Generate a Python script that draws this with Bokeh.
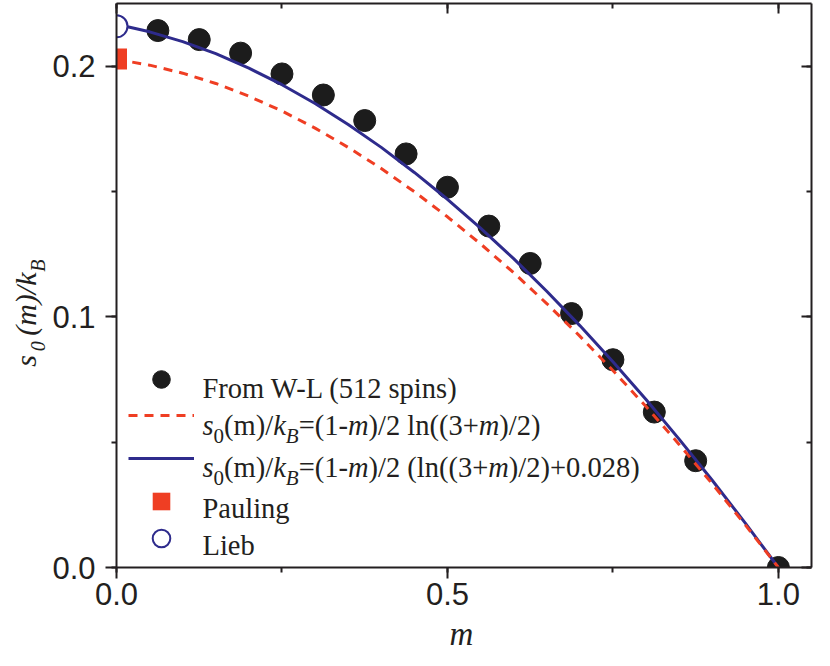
import math
from bokeh.plotting import figure
from bokeh.models import (Range1d, LinearAxis, SingleIntervalTicker, PrintfTickFormatter,
                          CustomJSTickFormatter, Label, Legend, LegendItem)
from bokeh.embed import file_html
from bokeh.resources import INLINE

# ---------------- data ----------------
m_wl = [0.0625, 0.125, 0.1875, 0.25, 0.3125, 0.375, 0.4375, 0.5,
        0.5625, 0.625, 0.6875, 0.75, 0.8125, 0.875, 1.0]
s_wl = [0.2142, 0.2106, 0.2052, 0.1969, 0.1885, 0.1783, 0.1650, 0.1517,
        0.1362, 0.1213, 0.1013, 0.0829, 0.0620, 0.0426, 0.0]

m_curve = [0.0, 0.05, 0.10, 0.15, 0.20, 0.25, 0.30, 0.35, 0.40, 0.45, 0.50,
           0.55, 0.60, 0.65, 0.70, 0.75, 0.80, 0.85, 0.90, 0.95, 1.0]
s_dashed = [0.2027, 0.2004, 0.1972, 0.1931, 0.1880, 0.1821, 0.1753, 0.1676,
            0.1592, 0.1499, 0.1399, 0.1291, 0.1176, 0.1053, 0.0923, 0.0786,
            0.0642, 0.0491, 0.0334, 0.0170, 0.0]
s_solid = [0.2167, 0.2137, 0.2098, 0.2050, 0.1992, 0.1926, 0.1851, 0.1767,
           0.1676, 0.1576, 0.1469, 0.1354, 0.1232, 0.1102, 0.0965, 0.0821,
           0.0670, 0.0512, 0.0348, 0.0177, 0.0]

m_pauling = [0.0]
s_pauling = [0.2029]
m_lieb = [0.0]
s_lieb = [0.2159]

x_lo, x_hi = 0.0, 1.05
y_lo, y_hi = 0.0, 0.225
legend_labels = ["From W-L (512 spins)", "Pauling", "Lieb"]

RED = "#EF3E23"
BLUE = "#2E2B8C"
BLACK = "#1C1C1C"
INK = "#231F20"

# ---------------- geometry ----------------
# The frame fills the canvas to the left and bottom edges so that the axis titles
# (rich text) can be drawn inside it; the left and bottom axes are pinned at 0.
W, H = 814, 650
TOP_B, RIGHT_B = 3, 3
X0_PX = 116          # pixel column of m = 0
Y0_PX = 567          # pixel row of s = 0
ppx = (W - RIGHT_B - X0_PX) / (x_hi - x_lo)
ppy = (Y0_PX - TOP_B) / (y_hi - y_lo)
x_start = x_lo - X0_PX / ppx
y_start = y_lo - (H - Y0_PX) / ppy

p = figure(width=W, height=H, x_range=Range1d(x_start, x_hi), y_range=Range1d(y_start, y_hi),
           output_backend="svg", toolbar_location=None,
           x_axis_location=None, y_axis_location=None,
           min_border_left=0, min_border_bottom=0, min_border_right=RIGHT_B,
           min_border_top=TOP_B)
p.grid.visible = False
p.outline_line_color = None
p.background_fill_color = "white"

xt = SingleIntervalTicker(interval=0.5, num_minor_ticks=2)
yt = SingleIntervalTicker(interval=0.1, num_minor_ticks=2)


def style_axis(ax, outer):
    ax.axis_line_color = INK
    ax.axis_line_width = 2
    ax.major_tick_line_color = INK
    ax.minor_tick_line_color = INK
    ax.major_tick_line_width = 2
    ax.minor_tick_line_width = 2
    if outer:
        ax.major_tick_out = 11
        ax.major_tick_in = 0
        ax.minor_tick_out = 5
        ax.minor_tick_in = 0
    else:
        ax.major_tick_out = 0
        ax.major_tick_in = 10
        ax.minor_tick_out = 0
        ax.minor_tick_in = 5
    ax.major_label_text_font = "Liberation Sans"
    ax.major_label_text_font_size = "31px"
    ax.major_label_text_color = INK


# ---------------- data marks ----------------
r_wl = p.scatter(m_wl, s_wl, marker="circle", size=22, fill_color=BLACK, line_color=BLACK)
r_solid = p.line(m_curve, s_solid, line_color=BLUE, line_width=3)
r_dash = p.line(m_curve, s_dashed, line_color=RED, line_width=3, line_dash="9 7")
r_pau = p.scatter(m_pauling, s_pauling, marker="square", size=21, fill_color=RED, line_color=None)
r_lieb = p.scatter(m_lieb, s_lieb, marker="circle", size=22, fill_color="white",
                   line_color=BLUE, line_width=2)

# white masks outside the data area (the reference clips the marks at the axes)
p.quad(left=[x_start], right=[x_lo], bottom=[y_start], top=[y_hi],
       fill_color="white", line_color=None)
p.quad(left=[x_lo], right=[x_hi], bottom=[y_start], top=[y_lo],
       fill_color="white", line_color=None)

# ---------------- axes ----------------
xa = LinearAxis(ticker=xt, formatter=PrintfTickFormatter(format="%.1f"),
                fixed_location=y_lo, bounds=(x_lo, x_hi))
style_axis(xa, True)
xa.major_label_standoff = 4
p.add_layout(xa, "below")

ya = LinearAxis(ticker=yt, formatter=PrintfTickFormatter(format="%.1f"),
                fixed_location=x_lo, bounds=(y_lo, y_hi))
style_axis(ya, True)
ya.major_label_standoff = 10
p.add_layout(ya, "left")

blank = CustomJSTickFormatter(code="return ''")
top = LinearAxis(ticker=xt, formatter=blank, major_label_standoff=0, bounds=(x_lo, x_hi))
style_axis(top, False)
p.add_layout(top, "above")
right = LinearAxis(ticker=yt, formatter=blank, major_label_standoff=0, bounds=(y_lo, y_hi))
style_axis(right, False)
p.add_layout(right, "right")

# ---------------- legend swatches ----------------
def swatch(renderer, center):
    lg = Legend(items=[LegendItem(label="", renderers=[renderer])],
                location=(128, center - 22), glyph_width=66, glyph_height=44,
                label_height=44, padding=0, margin=0, spacing=0, label_standoff=0,
                border_line_color=None, background_fill_alpha=0,
                label_text_font_size="10px")
    p.add_layout(lg)

swatch(r_wl, 270.7)
swatch(r_dash, 235.3)
swatch(r_solid, 192.1)
swatch(r_pau, 148.8)
swatch(r_lieb, 112.5)

# ---------------- rich text helpers ----------------
REG = {' ': 250, '(': 333, ')': 333, '+': 564, '-': 333, '.': 250, '/': 278, '=': 564,
       'B': 667, 'F': 556, 'L': 611, 'P': 556, 'W': 944, 'a': 444, 'b': 500, 'e': 444,
       'g': 500, 'i': 278, 'k': 500, 'l': 278, 'm': 778, 'n': 500, 'o': 500, 'p': 500,
       'r': 333, 's': 389, 'u': 500}
ITA = {'s': 389, 'm': 722, 'k': 444, 'B': 611, '(': 333, ')': 333, '/': 278}
for d in "0123456789":
    REG[d] = 500
    ITA[d] = 500


def width(text, ital, size):
    t = ITA if ital else REG
    return sum(t.get(c, 500) for c in text) * size / 1000.0


def label(x, y, text, ital, size, angle=0.0, align="left"):
    p.add_layout(Label(x=x, y=y, x_units="screen", y_units="screen", text=text,
                       text_font="Liberation Serif",
                       text_font_style="italic" if ital else "normal",
                       text_font_size=f"{size}px", text_color=INK, angle=angle,
                       text_align=align, text_baseline="alphabetic"))


def rich(x, y, runs, main, sub, shift):
    pos = 0.0
    for text, ital, is_sub in runs:
        size = sub if is_sub else main
        dy = shift if is_sub else 0.0
        label(x + pos, y - dy, text, ital, size)
        pos += width(text, ital, size)


LF, LS, LSH = 28.5, 21, 11
TX = 202
rich(TX, 261.8, [(legend_labels[0], False, False)], LF, LS, LSH)
rich(TX, 225.5, [("s", True, False), ("0", False, True), ("(m)/", False, False),
                 ("k", True, False), ("B", True, True), ("=(1-", False, False),
                 ("m", True, False), (")/2 ln((3+", False, False), ("m", True, False),
                 (")/2)", False, False)], LF, LS, LSH)
rich(TX, 183.2, [("s", True, False), ("0", False, True), ("(m)/", False, False),
                 ("k", True, False), ("B", True, True), ("=(1-", False, False),
                 ("m", True, False), (")/2 (ln((3+", False, False), ("m", True, False),
                 (")/2)+0.028)", False, False)], LF, LS, LSH)
rich(TX, 141.9, [(legend_labels[1], False, False)], LF, LS, LSH)
rich(TX, 104.6, [(legend_labels[2], False, False)], LF, LS, LSH)

# ---------------- axis titles ----------------
A = math.pi / 2
label(25, 283.7, "s", True, 30, A)
label(37, 299.2, "0", True, 20, A)
label(25, 314.7, "(m)/k", True, 30, A)
label(37, 378.7, "B", True, 20, A)

label(461, 17, "m", True, 33, align="center")

open("out.html", "w").write(file_html(p, INLINE))
